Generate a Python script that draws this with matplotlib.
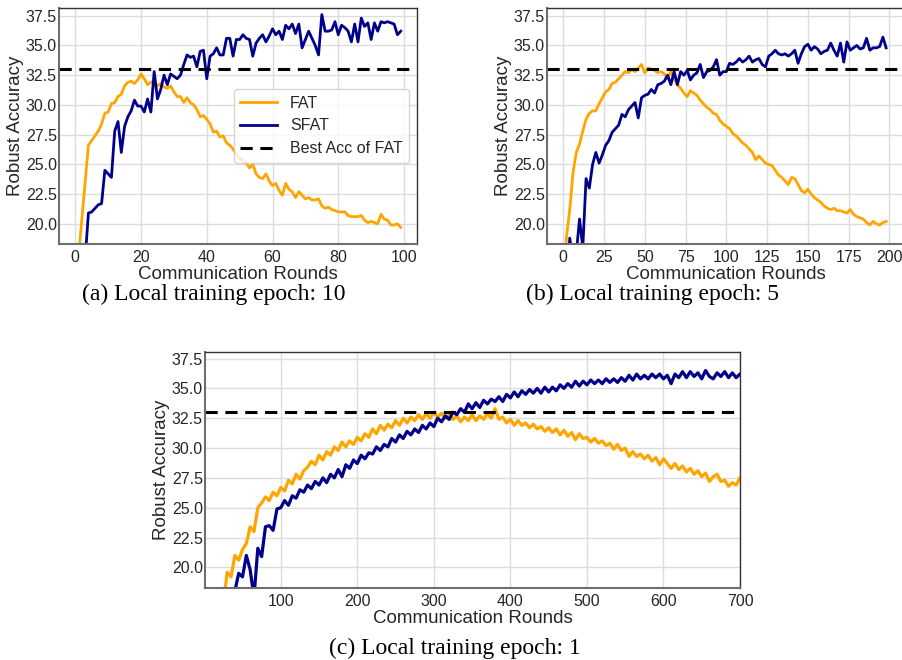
import numpy as np
import matplotlib
matplotlib.use('Agg')
import matplotlib.pyplot as plt

plt.rcParams['font.family'] = ['Liberation Sans', 'DejaVu Sans']

BEST_FAT = 33.0

# (a) local epoch 10, rounds 0..99
rounds_a = list(range(100))
fat_a = [12.0, 17.3, 20.4, 23.5, 26.6, 27.0, 27.4, 27.8, 28.4, 29.3,
         29.4, 30.1, 30.2, 30.7, 30.9, 31.6, 31.9, 32.0, 31.8, 32.1,
         32.6, 32.2, 31.7, 31.9, 32.0, 31.6, 31.8, 31.5, 31.4, 31.6,
         31.1, 30.7, 30.7, 30.2, 30.6, 30.2, 30.0, 29.6, 29.0, 29.1,
         28.8, 28.4, 27.7, 27.8, 27.3, 27.4, 26.8, 26.6, 26.3, 25.8,
         25.5, 25.3, 25.1, 24.7, 25.0, 24.2, 23.9, 23.8, 24.2, 23.6,
         23.2, 23.4, 22.8, 22.4, 23.4, 22.9, 22.7, 22.2, 22.7, 22.4,
         22.1, 22.2, 22.0, 22.0, 22.1, 21.5, 21.3, 21.4, 21.2, 21.1,
         21.0, 21.0, 21.0, 20.7, 20.6, 20.6, 20.6, 20.7, 20.3, 20.1,
         20.2, 20.1, 20.0, 20.8, 20.4, 20.3, 19.9, 19.9, 20.0, 19.7]
sfat_a = [10.0, 12.5, 14.5, 17.0, 20.9, 21.0, 21.3, 21.6, 21.7, 24.5,
          24.2, 23.9, 27.8, 28.6, 26.0, 28.2, 29.0, 29.5, 30.4, 29.9,
          29.9, 29.4, 30.5, 29.4, 32.8, 30.5, 31.3, 32.5, 31.7, 32.6,
          32.4, 32.2, 32.5, 33.4, 34.2, 34.0, 34.1, 33.2, 34.5, 34.6,
          32.2, 34.1, 34.3, 34.8, 34.2, 34.2, 35.6, 35.6, 34.1, 35.5,
          35.5, 35.9, 35.6, 35.5, 34.1, 35.2, 35.6, 35.9, 35.3, 35.8,
          36.4, 35.9, 36.2, 35.5, 36.7, 36.4, 36.8, 36.0, 36.8, 34.8,
          35.5, 36.2, 35.6, 35.0, 34.2, 37.6, 36.2, 36.2, 36.3, 37.0,
          35.9, 36.7, 36.5, 36.2, 35.3, 36.8, 35.3, 37.3, 36.6, 36.9,
          35.5, 36.9, 36.2, 37.0, 36.9, 37.0, 36.9, 36.8, 35.9, 36.2]

# (b) local epoch 5, every second round 0..198
rounds_b = list(range(0, 200, 2))
fat_b = [14.0, 18.9, 21.2, 24.3, 26.0, 26.7, 27.8, 28.8, 29.3, 29.5,
         29.5, 30.1, 30.6, 31.1, 31.3, 31.8, 31.9, 32.2, 32.5, 32.8,
         32.7, 33.0, 32.8, 33.1, 33.4, 32.7, 33.1, 33.0, 32.9, 32.7,
         32.8, 32.6, 32.2, 32.8, 32.2, 31.7, 31.4, 31.0, 30.7, 31.2,
         31.0, 30.8, 30.4, 30.1, 29.8, 29.6, 29.3, 29.2, 28.7, 28.4,
         28.2, 28.0, 27.6, 27.4, 27.1, 26.8, 26.6, 26.3, 26.0, 25.4,
         25.7, 25.4, 25.1, 25.0, 24.9, 24.5, 24.1, 23.9, 23.6, 23.3,
         23.9, 23.8, 23.3, 22.8, 22.6, 22.9, 22.5, 22.2, 22.0, 21.8,
         21.5, 21.3, 21.2, 21.3, 21.1, 21.1, 21.0, 20.9, 21.2, 20.8,
         20.6, 20.5, 20.4, 20.1, 19.9, 20.2, 20.0, 19.9, 20.1, 20.2]
sfat_b = [12.0, 15.0, 18.8, 17.0, 17.5, 20.4, 18.0, 23.8, 23.0, 25.0,
          26.0, 25.1, 25.8, 26.6, 27.0, 27.7, 28.0, 28.3, 29.2, 29.0,
          29.6, 29.9, 30.2, 28.9, 30.6, 30.8, 30.9, 31.3, 31.0, 31.7,
          31.8, 32.0, 32.5, 31.7, 32.8, 31.7, 32.8, 32.5, 32.9, 32.1,
          32.5, 32.7, 33.4, 32.3, 32.8, 32.9, 33.2, 33.8, 32.5, 32.8,
          32.8, 33.5, 33.4, 33.6, 33.9, 33.6, 33.8, 34.1, 33.6, 33.8,
          33.9, 33.4, 33.2, 34.1, 34.3, 34.6, 34.3, 34.2, 34.3, 34.1,
          34.3, 34.6, 33.5, 34.3, 34.9, 35.1, 34.6, 34.9, 34.7, 34.3,
          34.5, 34.6, 35.2, 34.6, 34.1, 35.2, 33.6, 35.3, 34.6, 34.8,
          35.0, 34.7, 34.8, 35.6, 34.6, 34.8, 34.8, 34.9, 35.7, 34.8]

# (c) local epoch 1, every fifth round 25..700
rounds_c = list(range(25, 701, 5))
fat_c = [17.0, 19.6, 19.2, 21.0, 20.6, 21.5, 22.0, 23.4, 23.0, 25.0,
         25.4, 25.9, 25.6, 26.3, 26.0, 26.7, 26.4, 27.3, 27.0, 27.8,
         27.4, 28.1, 28.4, 28.9, 28.6, 29.4, 29.0, 29.7, 29.4, 30.1,
         29.8, 30.5, 30.1, 30.6, 30.3, 30.9, 30.6, 31.2, 30.9, 31.6,
         31.2, 31.9, 31.5, 32.0, 31.7, 32.3, 31.9, 32.5, 32.1, 32.6,
         32.3, 32.8, 32.4, 32.9, 32.5, 33.0, 32.6, 32.9, 32.5, 32.8,
         32.4, 32.7, 32.2, 32.6, 32.3, 32.8, 32.3, 32.7, 32.4, 32.9,
         32.5, 33.3, 32.4, 32.6, 32.1, 32.4, 31.9, 32.3, 31.9, 32.1,
         31.7, 32.0, 31.6, 31.8, 31.4, 31.7, 31.3, 31.6, 31.1, 31.5,
         31.0, 31.3, 30.7, 31.2, 30.8, 30.9, 30.5, 30.8, 30.4, 30.6,
         30.2, 30.4, 29.9, 30.3, 29.8, 30.0, 29.3, 29.7, 29.3, 29.5,
         29.1, 29.4, 28.9, 29.2, 28.6, 29.1, 28.7, 28.3, 28.7, 28.2,
         28.5, 28.0, 28.3, 27.8, 28.1, 27.6, 27.9, 27.2, 27.6, 27.8,
         27.2, 27.3, 26.8, 27.1, 26.9, 27.5]
sfat_c = [14.0, 15.5, 17.0, 18.0, 19.5, 19.2, 21.0, 19.8, 17.5, 21.6,
          20.9, 23.4, 23.5, 23.1, 24.9, 25.0, 25.6, 25.2, 26.0, 25.8,
          26.5, 26.3, 26.9, 26.6, 27.2, 26.9, 27.5, 27.1, 27.8, 27.5,
          28.2, 27.6, 28.6, 28.3, 29.0, 28.7, 29.4, 29.1, 29.6, 29.5,
          30.1, 29.8, 30.3, 30.1, 30.8, 30.5, 31.1, 30.8, 31.4, 31.1,
          31.6, 31.3, 31.9, 31.6, 32.1, 31.8, 32.5, 32.2, 32.7, 32.4,
          33.0, 32.8, 33.3, 33.0, 33.7, 33.3, 33.8, 33.4, 34.0, 33.7,
          34.1, 33.9, 34.3, 33.9, 34.5, 34.2, 34.7, 34.3, 34.8, 34.5,
          34.9, 34.6, 35.0, 34.6, 35.1, 34.7, 35.1, 34.8, 35.3, 35.0,
          35.4, 35.1, 35.6, 35.2, 35.6, 35.3, 35.7, 35.4, 35.7, 35.4,
          35.8, 35.5, 35.8, 35.5, 35.9, 35.6, 36.1, 35.7, 36.2, 35.8,
          36.1, 35.8, 36.2, 35.9, 36.2, 35.8, 36.1, 35.4, 36.2, 35.9,
          36.4, 35.9, 36.4, 36.0, 36.3, 35.8, 36.5, 36.0, 35.8, 36.3,
          36.0, 36.4, 35.9, 36.3, 35.9, 36.2]

W, H = 903, 660
fig = plt.figure(figsize=(W / 100, H / 100), dpi=100)


def style_axes(ax):
    ax.set_facecolor('white')
    ax.grid(True, color='#dcdcdc', linewidth=1.0)
    ax.set_axisbelow(True)
    ax.tick_params(length=0, labelsize=11.5, labelcolor='#262626')
    ax.tick_params(axis='x', pad=4)
    ax.tick_params(axis='y', pad=1.5)
    for side in ['left', 'bottom']:
        ax.spines[side].set_color('#6e6e6e')
        ax.spines[side].set_linewidth(1.5)
    for side in ['top', 'right']:
        ax.spines[side].set_color('#333333')
        ax.spines[side].set_linewidth(1.0)
    ax.set_yticks([20.0, 22.5, 25.0, 27.5, 30.0, 32.5, 35.0, 37.5])
    ax.set_xlabel('Communication Rounds', fontsize=13.5, color='#262626', labelpad=1)
    ax.set_ylabel('Robust Accuracy', fontsize=13.5, color='#262626', labelpad=1.5)


def px_axes(l, r, t, b):
    return fig.add_axes([l / W, 1 - b / H, (r - l) / W, (b - t) / H])


ax_a = px_axes(59, 417, 8, 244)
ax_a.plot(rounds_a, fat_a, color='orange', lw=2.0, label='FAT')
ax_a.plot(rounds_a, sfat_a, color='darkblue', lw=2.0, label='SFAT')
ax_a.axhline(BEST_FAT, color='black', lw=2.2, ls=(0, (4, 2.5)), label='Best Acc of FAT')
ax_a.set_xlim(-4.95, 103.95)
ax_a.set_ylim(18.3, 38.15)
style_axes(ax_a)
leg = ax_a.legend(loc='center right', fontsize=11.5, frameon=True, framealpha=0.8,
                  edgecolor='#cccccc', fancybox=True, handlelength=2.3)
for t in leg.get_texts():
    t.set_color('#262626')

ax_b = px_axes(547, 904, 8, 244)
ax_b.plot(rounds_b, fat_b, color='orange', lw=2.0)
ax_b.plot(rounds_b, sfat_b, color='darkblue', lw=2.0)
ax_b.axhline(BEST_FAT, color='black', lw=2.2, ls=(0, (4, 2.5)))
ax_b.set_xlim(-9.95, 208.95)
ax_b.set_ylim(18.3, 38.15)
ax_b.set_xticks([0, 25, 50, 75, 100, 125, 150, 175, 200])
style_axes(ax_b)

ax_c = px_axes(205, 740, 352, 588)
ax_c.plot(rounds_c, fat_c, color='orange', lw=2.3)
ax_c.plot(rounds_c, sfat_c, color='darkblue', lw=2.3)
ax_c.axhline(BEST_FAT, color='black', lw=2.2, ls=(0, (4, 2.5)))
ax_c.set_xlim(1, 700)
ax_c.set_ylim(18.27, 38.05)
ax_c.set_xticks([100, 200, 300, 400, 500, 600, 700])
style_axes(ax_c)

cap = dict(fontsize=17, family='Liberation Serif', ha='center', va='center', color='black')
fig.text(214 / W, 1 - 294 / H, '(a) Local training epoch: 10', **cap)
fig.text(652 / W, 1 - 294 / H, '(b) Local training epoch: 5', **cap)
fig.text(455 / W, 1 - 648 / H, '(c) Local training epoch: 1', **cap)

fig.savefig('out.png', dpi=100)
